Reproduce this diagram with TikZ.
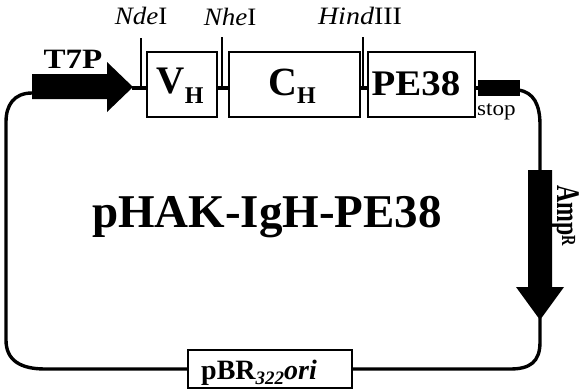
\documentclass[tikz,border=0pt]{standalone}
\usepackage{fontspec}
\setmainfont{Liberation Serif}
\newcommand{\fs}[1]{\fontsize{#1}{#1}\selectfont}
\begin{document}
\begin{tikzpicture}[x=1pt,y=-1pt,
  box/.style={draw, line width=1.6pt, minimum height=65pt, inner sep=0pt},
  circ/.style={line width=3.4pt},
  link/.style={line width=4.5pt},
  tick/.style={line width=1.2pt},
  lbl/.style={inner sep=0pt, anchor=base}]
\useasboundingbox (0,0) rectangle (585,391);
% boxes
\node[box, minimum width=70pt] (vh) at (182,84.5) {};
\node[box, minimum width=131pt] (ch) at (294.5,84.5) {};
\node[box, minimum width=107pt] (pe) at (421.5,84.5) {};
\node[fill=black, inner sep=0pt, minimum width=42pt, minimum height=16pt] (stop) at (499,88) {};
\node[draw, line width=1.6pt, minimum width=164pt, minimum height=38pt, inner sep=0pt] (pbr) at (270,369) {};
% box texts
\node[lbl] (vht) at (180,93) {\fs{39}\bfseries V\raisebox{-10pt}{\fs{24}H}};
\node[lbl] (cht) at (292,95) {\fs{40}\bfseries C\raisebox{-8pt}{\fs{24}H}};
\node[lbl] (pet) at (416,95) {\fs{36}\bfseries\scalebox{1.08}[1]{PE38}};
\node[lbl, anchor=base west] (stopt) at (477,115) {\fs{21}\scalebox{1.1}[1]{stop}};
\node[lbl] (pbrt) at (259,379) {\fs{28}\bfseries pBR\raisebox{-5pt}{\fs{19}\itshape 322}\itshape ori};
\node[lbl] (title) at (267,227) {\fs{47}\bfseries pHAK-IgH-PE38};
% site labels
\node[lbl] (nde) at (141,24) {\fs{25}\scalebox{1.08}[1]{\itshape Nde\upshape I}};
\node[lbl] (nhe) at (230,25) {\fs{25}\scalebox{1.08}[1]{\itshape Nhe\upshape I}};
\node[lbl] (hind) at (360,24) {\fs{25}\scalebox{1.12}[1]{\itshape Hind\upshape III}};
\node[lbl] (t7t) at (73,68) {\fs{28}\bfseries\scalebox{1.18}[1]{T7P}};
\node[lbl, anchor=base west, rotate=-90] (ampt) at (557,185) {\fs{33}\bfseries\scalebox{0.72}[1]{Amp\raisebox{5pt}{\fs{20}R}}};
% T7P arrow
\fill (32,74) -- (107,74) -- (107,62) -- (133,87) -- (107,112) -- (107,99) -- (32,99) -- cycle;
\coordinate (t7tip) at (132,88);
\coordinate (t7tail) at (32,93);
% Amp arrow
\fill (528,170) -- (552,170) -- (552,287) -- (564,287) -- (540,320) -- (516,287) -- (528,287) -- cycle;
\coordinate (amptop) at (540,171);
\coordinate (amptip) at (540,318);
% links
\draw[link] (t7tip) -- (t7tip -| vh.west);
\draw[link] (vh.east |- t7tip) -- (ch.west |- t7tip);
\draw[link] (ch.east |- t7tip) -- (pe.west |- t7tip);
\draw[link] (pe.east |- t7tip) -- (stop.west |- t7tip);
% ticks
\draw[tick] (141,38) -- (141,88);
\draw[tick] (222,37) -- (222,86);
\draw[tick] (363,37) -- (363,88);
% circuit
\draw[circ] (t7tail) .. controls (14,93) and (6,105) .. (6,122) -- (6,340) .. controls (6,360) and (20,369) .. (45,369) -- (pbr.west);
\draw[circ] (518,90) .. controls (534,92) and (540,105) .. (540,125) -- (amptop);
\draw[circ] (amptip) -- (540,342) .. controls (540,362) and (530,369) .. (510,369) -- (pbr.east);
\end{tikzpicture}
\end{document}
